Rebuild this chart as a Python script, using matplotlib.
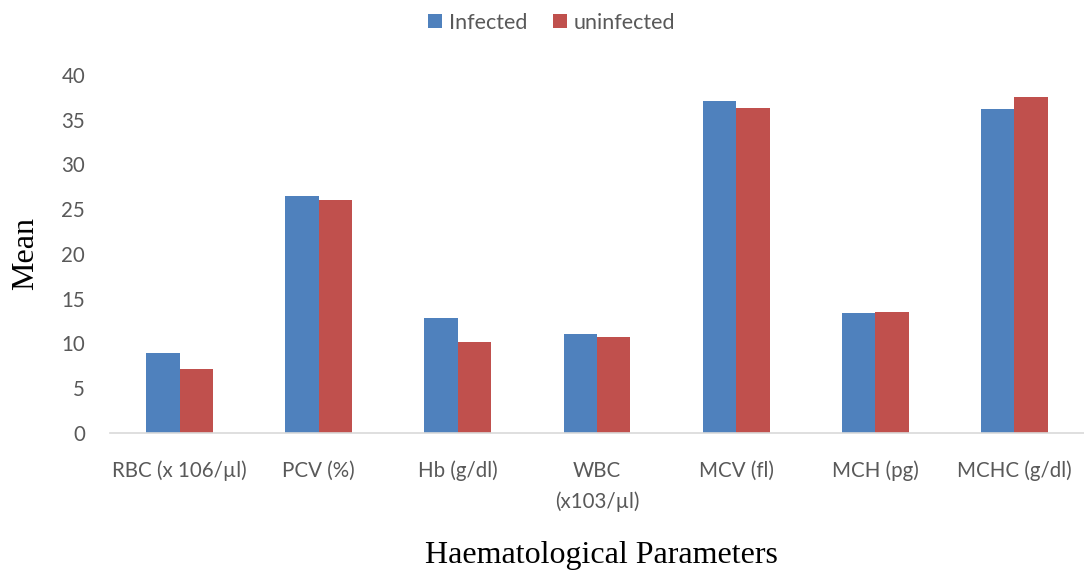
import numpy as np
import matplotlib
matplotlib.use("Agg")
import matplotlib.pyplot as plt

categories = ["RBC (x 106/µl)", "PCV (%)", "Hb (g/dl)", "WBC\n(x103/µl)",
              "MCV (fl)", "MCH (pg)", "MCHC (g/dl)"]
infected = [8.9, 26.5, 12.9, 11.1, 37.1, 13.4, 36.2]
uninfected = [7.2, 26.0, 10.2, 10.7, 36.3, 13.5, 37.5]

blue = "#4f81bd"
red = "#c0504d"
grey = "#595959"

fig = plt.figure(figsize=(10.84, 5.71), dpi=100)
ax = fig.add_axes([0.1015, 0.2417, 0.8985, 0.627])

x = np.arange(len(categories))
w = 0.24
ax.bar(x - w / 2, infected, w, color=blue, label="Infected")
ax.bar(x + w / 2, uninfected, w, color=red, label="uninfected")

ax.set_xlim(-0.5, len(categories) - 0.5)
ax.set_ylim(0, 40)
ax.set_yticks(range(0, 41, 5))
ax.set_xticks(x)
ax.set_xticklabels(categories, linespacing=1.65)

for s in ["top", "right", "left"]:
    ax.spines[s].set_visible(False)
ax.spines["bottom"].set_color("#d9d9d9")
ax.spines["bottom"].set_linewidth(1.2)
ax.tick_params(axis="both", length=0, labelsize=14.8, labelcolor=grey)
ax.tick_params(axis="x", pad=20)
ax.tick_params(axis="y", pad=18)
for t in ax.get_xticklabels() + ax.get_yticklabels():
    t.set_fontfamily("Lato")
for t in ax.get_xticklabels():
    t.set_verticalalignment("top")

ax.set_ylabel("Mean", fontsize=23, fontfamily="Liberation Serif")
ax.yaxis.set_label_coords(-0.072, 0.5)
fig.text(0.555, 0.028, "Haematological Parameters", fontsize=23,
         fontfamily="Liberation Serif", ha="center", va="center")

fig.legend(loc="center", bbox_to_anchor=(0.509, 0.96), ncol=2, frameon=False,
           prop={"family": "Lato", "size": 15.5}, labelcolor=grey,
           handlelength=0.65, handleheight=0.65, handletextpad=0.35, columnspacing=1.15)

fig.savefig("out.png", dpi=100)
